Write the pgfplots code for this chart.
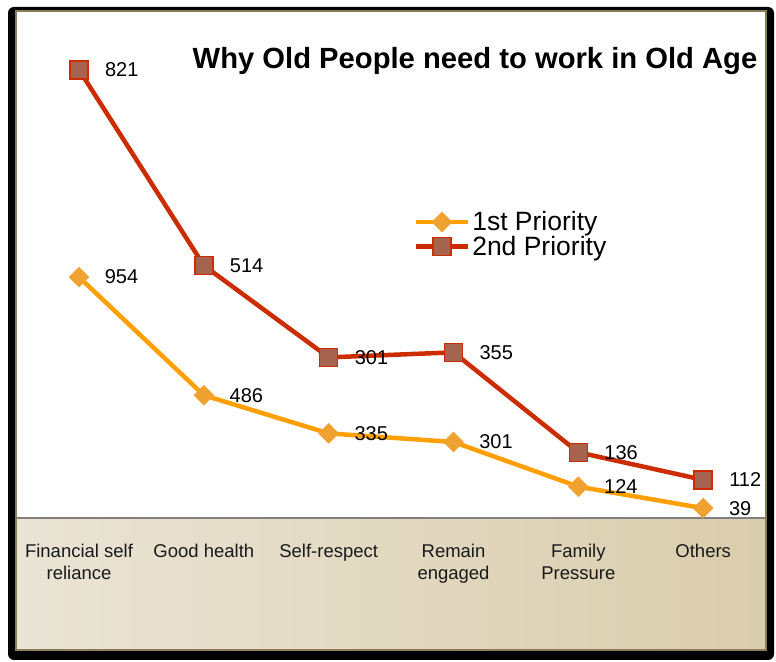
\documentclass[border=0pt]{standalone}
\usepackage{pgfplots}
\pgfplotsset{compat=1.18}
\usepackage{fontspec}
\setmainfont{Liberation Sans}
\definecolor{orangeL}{RGB}{255,160,0}
\definecolor{orangeM}{RGB}{240,162,48}
\definecolor{redL}{RGB}{204,45,0}
\definecolor{brownM}{RGB}{166,100,80}
\definecolor{olivebd}{RGB}{140,125,90}
\definecolor{beigeA}{RGB}{234,228,214}
\definecolor{beigeB}{RGB}{218,205,172}
\begin{document}
\begin{tikzpicture}[x=1bp,y=1bp]
\path[fill=white] (0,0) rectangle (776,662);
\fill[black, rounded corners=6bp] (8,2) rectangle (774,655);
\fill[white] (16,12) rectangle (766,651);
\shade[left color=beigeA, right color=beigeB] (16,12) rectangle (766,144);
\draw[olivebd, line width=2.5bp] (16,12) rectangle (766,651);
\begin{axis}[
  at={(16.6bp,144bp)}, anchor=south west,
  scale only axis, width=749bp, height=505bp,
  xmin=-0.5, xmax=5.5, ymin=0, ymax=2000,
  enlargelimits=false, clip=false,
  hide y axis,
  axis x line*=bottom,
  x axis line style={-, draw=gray, line width=1.5bp},
  xtick={0,1,2,3,4,5},
  xticklabels={{Financial self\\reliance},{Good health},{Self-respect},{Remain\\engaged},{Family\\Pressure},{Others}},
  xticklabel style={align=center, font=\fontsize{18.5bp}{22bp}\selectfont, yshift=-23bp, text=black!90},
  major tick length=0pt,
  stack plots=y,
  point meta=explicit symbolic,
  nodes near coords,
  every node near coord/.append style={anchor=west, xshift=22bp, font=\fontsize{20bp}{21bp}\selectfont, text=black},
  title={\bfseries Why Old People need to work in Old Age},
  title style={at={(0.612,0.879)}, anchor=base, font=\fontsize{29.2bp}{30bp}\selectfont},
  legend style={draw=none, fill=none, at={(0.530,0.611)}, anchor=north west,
    font=\fontsize{26.5bp}{27bp}\selectfont, row sep=0pt, inner sep=0pt,
    /tikz/every even column/.style={column sep=3bp}},
  legend cell align=left,
  legend image code/.code={\draw[mark repeat=2,mark phase=2,#1] plot coordinates {(0bp,0bp) (26bp,0bp) (52bp,0bp)};},
]
\addplot[orangeL, line width=4.5bp, mark=square*, mark size=6.8bp,
  mark options={rotate=45, fill=orangeM, draw=orangeM, line width=1bp}]
  coordinates {(0,954)[954] (1,486)[486] (2,335)[335] (3,301)[301] (4,124)[124] (5,39)[39]};
\addlegendentry{1st Priority}
\addplot[redL, line width=4.5bp, mark=square*, mark size=9bp,
  mark options={fill=brownM, draw=redL, line width=1.5bp}]
  coordinates {(0,821)[821] (1,514)[514] (2,301)[301] (3,355)[355] (4,136)[136] (5,112)[112]};
\addlegendentry{2nd Priority}
\end{axis}
\end{tikzpicture}
\end{document}
